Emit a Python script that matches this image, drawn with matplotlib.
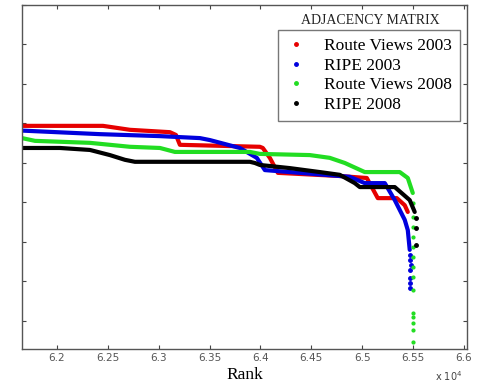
import matplotlib
matplotlib.use('Agg')
import matplotlib.pyplot as plt
from matplotlib.lines import Line2D

# rank values (actual rank), y in arbitrary units (no y labels in original)
red_rank = [61656, 62452, 62717, 63110, 63169, 63208, 63994, 64023, 64092, 64171,
            64780, 65045, 65153, 65340, 65418, 65448]
red_val = [5.94, 5.94, 5.84, 5.78, 5.71, 5.46, 5.41, 5.38, 5.13, 4.75,
           4.67, 4.62, 4.11, 4.11, 3.93, 3.76]

blue_rank = [61656, 62422, 63012, 63405, 63503, 63797, 63964, 64043, 64387, 64878,
             65025, 65222, 65320, 65418, 65448, 65467]
blue_val = [5.82, 5.73, 5.68, 5.63, 5.58, 5.38, 5.13, 4.82, 4.75, 4.65,
            4.49, 4.49, 4.06, 3.56, 3.30, 2.80]
blue_tail_rank = [65467, 65470, 65475, 65468, 65474, 65469, 65472]
blue_tail_val = [2.67, 2.54, 2.42, 2.29, 2.09, 1.97, 1.84]

green_rank = [61656, 61784, 62324, 62717, 63012, 63159, 63896, 63994, 64485, 64681,
              64829, 65025, 65369, 65448, 65497]
green_val = [5.63, 5.56, 5.51, 5.41, 5.38, 5.28, 5.28, 5.23, 5.20, 5.13,
             5.00, 4.77, 4.77, 4.62, 4.24]
green_tail_rank = [65497, 65499, 65498, 65500, 65499, 65501, 65498, 65500, 65499,
                   65500, 65501, 65499, 65500, 65502]
green_tail_val = [3.99, 3.63, 3.38, 3.13, 2.87, 2.62, 2.37, 2.11, 1.78,
                  1.20, 1.10, 0.95, 0.77, 0.47]

black_rank = [61656, 62029, 62324, 62520, 62668, 62766, 63896, 63945, 63994, 64289,
              64583, 64780, 64927, 64976, 65320, 65467, 65516]
black_val = [5.38, 5.38, 5.33, 5.20, 5.08, 5.03, 5.03, 5.00, 4.95, 4.87,
             4.77, 4.70, 4.49, 4.39, 4.39, 4.06, 3.76]
black_tail_rank = [65526, 65527, 65526]
black_tail_val = [3.61, 3.35, 2.92]

xticks = [62000, 62500, 63000, 63500, 64000, 64500, 65000, 65500, 66000]
xtick_labels = ['6.2', '6.25', '6.3', '6.35', '6.4', '6.45', '6.5', '6.55', '6.6']
labels = ['Route Views 2003', 'RIPE 2003', 'Route Views 2008', 'RIPE 2008']
colors = ['#e60000', '#0000dd', '#22dd22', '#000000']

fig = plt.figure(figsize=(4.78, 3.85), dpi=100)
ax = fig.add_axes([0.046, 0.0935, 0.931, 0.8935])

ax.plot(red_rank, red_val, color=colors[0], lw=3, solid_capstyle='round')
ax.plot(blue_rank, blue_val, color=colors[1], lw=3, solid_capstyle='round')
ax.plot(blue_tail_rank, blue_tail_val, '.', color=colors[1], ms=5)
ax.plot(green_rank, green_val, color=colors[2], lw=3, solid_capstyle='round')
ax.plot(green_tail_rank, green_tail_val, '.', color=colors[2], ms=4)
ax.plot(black_rank, black_val, color=colors[3], lw=3, solid_capstyle='round')
ax.plot(black_tail_rank, black_tail_val, '.', color=colors[3], ms=5)

ax.set_xlim(61656, 66030)
ax.set_ylim(0.29, 9.0)
ax.set_xticks(xticks)
ax.set_xticklabels(xtick_labels, fontsize=7.5, color='#555555', family='DejaVu Sans')
ax.set_yticks(range(1, 10))
ax.set_yticklabels([])
ax.tick_params(direction='in', length=3, top=True, right=True, pad=3, color='#444444')
for s in ax.spines.values():
    s.set_color('#555555')
    s.set_linewidth(1.0)

ax.set_xlabel('Rank', family='Liberation Serif', fontsize=12.5, labelpad=3)
ax.text(0.989, -0.078, r'x 10$^4$', transform=ax.transAxes, fontsize=7,
        color='#444444', ha='right', va='center')

handles = [Line2D([], [], marker='.', ls='none', color=c, ms=5) for c in colors]
leg = ax.legend(handles, labels, loc='upper right', bbox_to_anchor=(0.984, 0.927),
                prop={'family': 'Liberation Serif', 'size': 12.5}, frameon=True,
                fancybox=False, edgecolor='#555555', labelspacing=0.2,
                handlelength=1.2, handletextpad=1.0, borderpad=0.45, borderaxespad=0)
leg.get_frame().set_linewidth(1.0)
ax.text(0.782, 0.956, 'ADJACENCY MATRIX', transform=ax.transAxes,
        family='Liberation Serif', fontsize=10, ha='center', va='center', color='#222222')

plt.savefig('out.png', dpi=100)
